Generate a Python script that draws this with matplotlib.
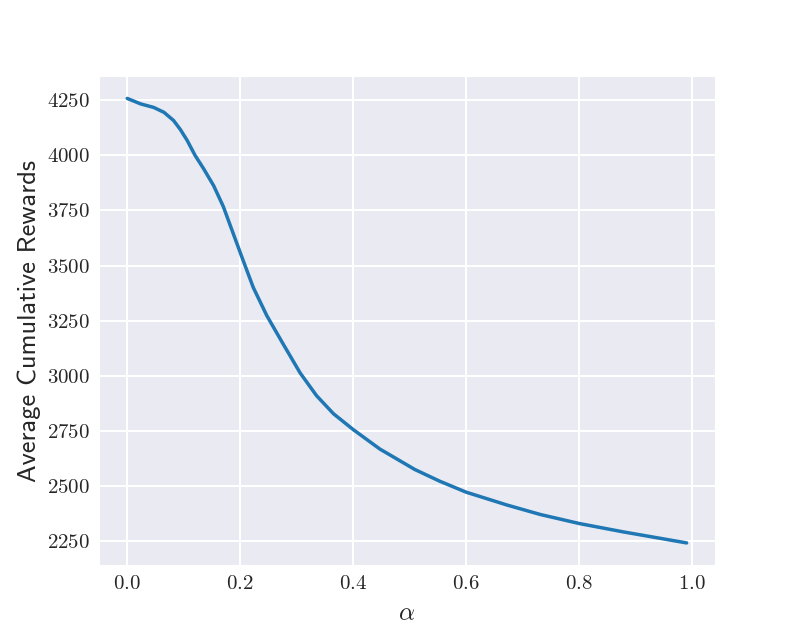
import matplotlib
matplotlib.use("Agg")
import matplotlib.pyplot as plt
import seaborn as sns

# reward vs. alpha
alpha = [0.0, 0.024, 0.047, 0.065, 0.082, 0.094, 0.106, 0.12, 0.135, 0.153,
         0.17, 0.203, 0.223, 0.247, 0.276, 0.306, 0.335, 0.365, 0.4, 0.447,
         0.509, 0.553, 0.6, 0.672, 0.731, 0.8, 0.878, 0.99]
rewards = [4258, 4233, 4217, 4195, 4158, 4117, 4068, 4000, 3940, 3862,
           3768, 3538, 3401, 3273, 3144, 3013, 2910, 2828, 2756, 2668,
           2575, 2522, 2472, 2414, 2371, 2330, 2292, 2242]

sns.set_style("darkgrid")
plt.rcParams["font.family"] = ["cmr10", "DejaVu Serif"]
plt.rcParams["mathtext.fontset"] = "cm"
plt.rcParams["axes.formatter.use_mathtext"] = True
plt.rcParams["grid.linewidth"] = 1.5

fig, ax = plt.subplots(figsize=(7.94, 6.35), dpi=100)
ax.plot(alpha, rewards, color="#1f77b4", lw=2.5)
ax.tick_params(labelsize=15)
ax.set_xlabel(r"$\alpha$", fontsize=18, labelpad=7)
ax.set_ylabel("Average Cumulative Rewards", fontsize=19, family="cmss10")

fig.savefig("out.png", dpi=100)
